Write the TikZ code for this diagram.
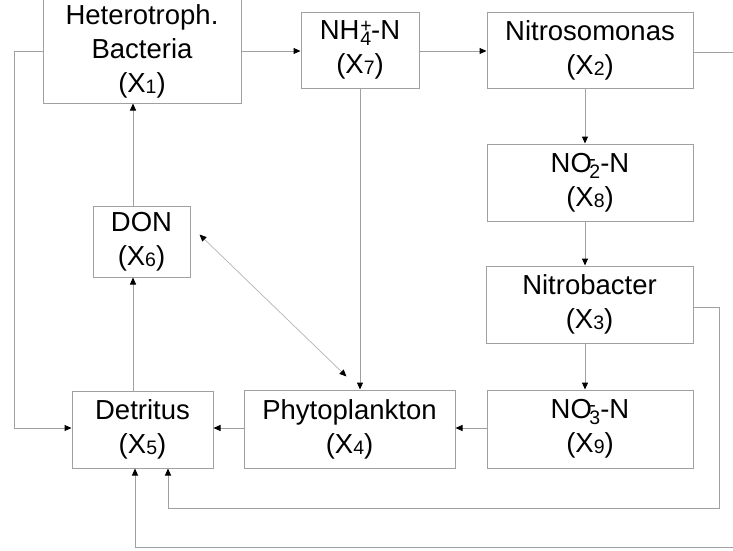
\documentclass[tikz,border=0pt]{standalone}
\usepackage{fontspec}
\setmainfont{Liberation Sans}
\usetikzlibrary{arrows.meta,calc}
\definecolor{lineg}{HTML}{A0A0A0}
\definecolor{lineh}{HTML}{B4B4B4}
\newcommand{\smf}[1]{{\fontsize{19.5}{19.5}\selectfont #1}}
\newcommand{\Xs}[1]{X\raisebox{-1pt}{\smf{#1}}}
\newcommand{\ionsup}[2]{\kern0.03em\rlap{\raisebox{7pt}{\smf{#1}}}\raisebox{-6pt}{\smf{#2}}}
\begin{document}
\begin{tikzpicture}[x=1pt,y=-1pt,
  box/.style={draw=lineg,line width=1pt,inner sep=0pt,align=center,
    font=\fontsize{27.5}{34}\selectfont},
  arr/.style={draw=lineg,line width=1pt,-{Triangle[length=7pt,width=6pt,color=black]}},
  darr/.style={draw=lineh,line width=0.7pt,{Triangle[length=7pt,width=6pt,color=black]}-{Triangle[length=7pt,width=6pt,color=black]}}]
\useasboundingbox[fill=white] (0,0) rectangle (733,550);
% nodes
\node[box,minimum width=198pt,minimum height=104pt] (X1) at (142,51) {Heterotroph.\\Bacteria\\(\Xs{1})};
\node[box,minimum width=118pt,minimum height=76pt] (X7) at (360,50) {NH\ionsup{+}{4}-N\\(\Xs{7})};
\node[box,minimum width=206pt,minimum height=76pt] (X2) at (590,50.5) {Nitrosomonas\\(\Xs{2})};
\node[box,minimum width=206pt,minimum height=77pt] (X8) at (590,182.5) {NO\kern-0.12em\ionsup{-}{2}-N\\(\Xs{8})};
\node[box,minimum width=207pt,minimum height=77pt] (X3) at (589.5,304.5) {Nitrobacter\\(\Xs{3})};
\node[box,minimum width=206pt,minimum height=78pt] (X9) at (590,429) {NO\kern-0.12em\ionsup{-}{3}-N\\(\Xs{9})};
\node[box,minimum width=211pt,minimum height=78pt] (X4) at (349.5,429) {Phytoplankton\\(\Xs{4})};
\node[box,minimum width=141pt,minimum height=77pt] (X5) at (142.5,429.5) {Detritus\\(\Xs{5})};
\node[box,minimum width=97pt,minimum height=71pt] (X6) at (141.5,241.5) {DON\\(\Xs{6})};
% connectors
\draw[arr] (X1.east |- 0,51) -- (X7.west |- 0,51);
\draw[arr] (X7.east |- 0,51) -- (X2.west |- 0,51);
\draw[arr] (X2.south -| 585,0) -- (X8.north -| 585,0);
\draw[arr] (X8.south -| 585,0) -- (X3.north -| 585,0);
\draw[arr] (X3.south -| 585,0) -- (X9.north -| 585,0);
\draw[arr] (X9.west |- 0,428) -- (X4.east |- 0,428);
\draw[arr] (X4.west |- 0,428) -- (X5.east |- 0,428);
\draw[arr] (X7.south) -- (X4.north -| X7.south);
\draw[arr] (X5.north -| 133,0) -- (X6.south -| 133,0);
\draw[arr] (X6.north -| 133,0) -- (X1.south -| 133,0);
\draw[arr] (X1.west |- 0,51) -| (14,428) -- (X5.west |- 0,428);
\draw[arr] (X3.east |- 0,307) -| (719,508) -| (X5.south -| 168,0);
\draw[arr] (X2.east |- 0,52) -| (735,547) -| (X5.south -| 135,0);
\coordinate (d1) at ($(X6.east)+(9,-7)$);
\coordinate (d2) at ($(X4.north)+(-3,-13)$);
\draw[darr] (d1) -- (d2);
\end{tikzpicture}
\end{document}
